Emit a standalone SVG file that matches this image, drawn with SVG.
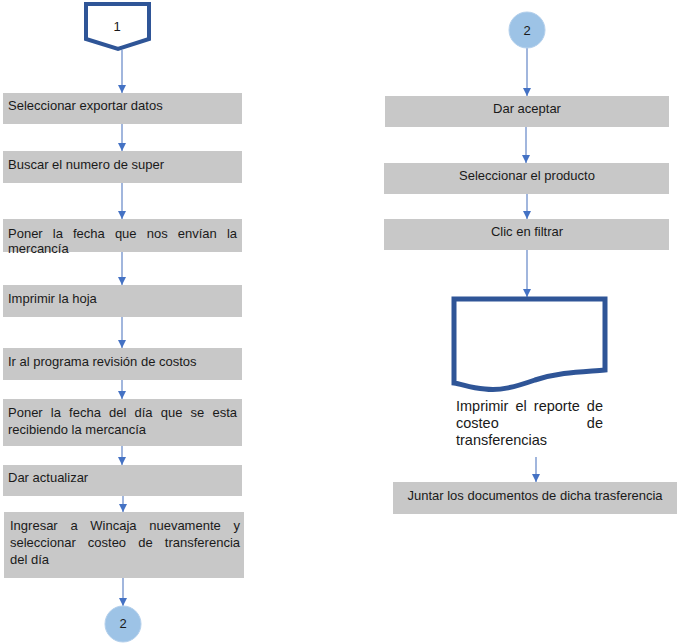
<svg xmlns="http://www.w3.org/2000/svg" width="678" height="643" viewBox="0 0 678 643">
<style>
.box{fill:#c8c8c8;stroke:none}
.t{font-family:"Liberation Sans",Arial,sans-serif;font-size:13px;fill:#1a1a1a}
.c{text-anchor:middle}
.conn{stroke:#6f8fcb;stroke-width:1.3;fill:none;marker-end:url(#ah)}
.circ{fill:#9dc3e6;stroke:#b4d0ec;stroke-width:1}
</style>
<defs>
<marker id="ah" viewBox="0 0 10 10" refX="10" refY="5" markerWidth="9" markerHeight="8" markerUnits="userSpaceOnUse" orient="auto">
<path d="M0,0 L10,5 L0,10 z" fill="#4472c4"/>
</marker>
</defs>
<rect width="678" height="643" fill="#ffffff"/>
<g id="connectors">
<line class="conn" x1="122" y1="50" x2="122" y2="93"/>
<line class="conn" x1="122" y1="124" x2="122" y2="151"/>
<line class="conn" x1="122" y1="183" x2="122" y2="219"/>
<line class="conn" x1="122" y1="252" x2="122" y2="285"/>
<line class="conn" x1="122" y1="317" x2="122" y2="348"/>
<line class="conn" x1="122" y1="380" x2="122" y2="399"/>
<line class="conn" x1="122" y1="446" x2="122" y2="465"/>
<line class="conn" x1="123" y1="496" x2="123" y2="512"/>
<line class="conn" x1="123" y1="578" x2="123" y2="606"/>
<line class="conn" x1="527" y1="48" x2="527" y2="96"/>
<line class="conn" x1="526" y1="127" x2="526" y2="163"/>
<line class="conn" x1="527" y1="194" x2="527" y2="219"/>
<line class="conn" x1="527" y1="250" x2="527" y2="297"/>
<line class="conn" x1="536" y1="457" x2="536" y2="482"/>
</g>
<g id="n_start1">
<path d="M86,4 L149,4 L149,39 L118,49 L86,39 Z" fill="#ffffff" stroke="#2f5597" stroke-width="4" stroke-linejoin="miter"/>
<text class="t c" x="117" y="31">1</text>
</g>
<g id="n1"><rect class="box" x="3" y="93" width="239" height="31"/><text class="t" x="8" y="110">Seleccionar exportar datos</text></g>
<g id="n2"><rect class="box" x="3" y="151" width="239" height="32"/><text class="t" x="8" y="169">Buscar el numero de super</text></g>
<g id="n3"><rect class="box" x="3" y="219" width="239" height="33"/>
<text class="t" y="238"><tspan x="8">Poner</tspan><tspan x="52.8">la</tspan><tspan x="73">fecha</tspan><tspan x="114.9">que</tspan><tspan x="146.7">nos</tspan><tspan x="177.8">envían</tspan><tspan x="237" text-anchor="end">la</tspan></text>
<text class="t" x="8" y="253">mercancía</text></g>
<g id="n4"><rect class="box" x="3" y="285" width="239" height="32"/><text class="t" x="8" y="303">Imprimir la hoja</text></g>
<g id="n5"><rect class="box" x="3" y="348" width="239" height="32"/><text class="t" x="8" y="366">Ir al programa revisión de costos</text></g>
<g id="n6"><rect class="box" x="3" y="399" width="239" height="47"/>
<text class="t" y="417"><tspan x="8">Poner</tspan><tspan x="50.8">la</tspan><tspan x="69.1">fecha</tspan><tspan x="109">del</tspan><tspan x="134.5">día</tspan><tspan x="160.7">que</tspan><tspan x="190.5">se</tspan><tspan x="237" text-anchor="end">esta</tspan></text>
<text class="t" x="8" y="434">recibiendo la mercancía</text></g>
<g id="n7"><rect class="box" x="3" y="465" width="239" height="31"/><text class="t" x="8" y="482">Dar actualizar</text></g>
<g id="n8"><rect class="box" x="4" y="512" width="240" height="66"/>
<text class="t" y="530"><tspan x="10">Ingresar</tspan><tspan x="70.4">a</tspan><tspan x="90.3">Wincaja</tspan><tspan x="149.2">nuevamente</tspan><tspan x="240" text-anchor="end">y</tspan></text>
<text class="t" y="547"><tspan x="10">seleccionar</tspan><tspan x="87.8">costeo</tspan><tspan x="138.2">de</tspan><tspan x="240" text-anchor="end">transferencia</tspan></text>
<text class="t" x="10" y="564">del día</text></g>
<g id="n_end2"><circle class="circ" cx="123" cy="624" r="18"/><text class="t c" x="123" y="628">2</text></g>
<g id="n_start2"><circle class="circ" cx="527" cy="30" r="18"/><text class="t c" x="527" y="35">2</text></g>
<g id="r1"><rect class="box" x="385" y="96" width="284" height="31"/><text class="t c" x="527" y="113">Dar aceptar</text></g>
<g id="r2"><rect class="box" x="384" y="163" width="285" height="31"/><text class="t c" x="527" y="180">Seleccionar el producto</text></g>
<g id="r3"><rect class="box" x="384" y="219" width="285" height="31"/><text class="t c" x="527" y="236">Clic en filtrar</text></g>
<g id="r4">
<path d="M454,299 L605,299 L605,370 C580,372 560,372 535,380 C515,387 500,391 485,389 C470,388 462,384 454,383 Z" fill="#ffffff" stroke="#2f5597" stroke-width="5"/>
<text class="t" style="font-size:14.5px" y="411"><tspan x="456">Imprimir</tspan><tspan x="515.4">el</tspan><tspan x="533.8">reporte</tspan><tspan x="603" text-anchor="end">de</tspan></text>
<text class="t" style="font-size:14.5px" y="428"><tspan x="456">costeo</tspan><tspan x="603" text-anchor="end">de</tspan></text>
<text class="t" style="font-size:14.5px" x="456" y="445">transferencias</text>
</g>
<g id="r5"><rect class="box" x="393" y="482" width="284" height="32"/><text class="t c" x="535" y="500">Juntar los documentos de dicha trasferencia</text></g>
</svg>
